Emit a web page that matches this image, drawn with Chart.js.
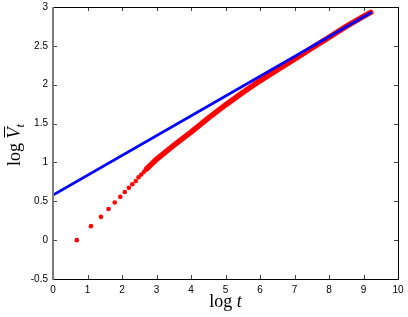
<!DOCTYPE html>
<html>
<head>
<meta charset="utf-8">
<script src="https://cdn.jsdelivr.net/npm/chart.js@4/dist/chart.umd.min.js"></script>
<style>
  body { margin: 0; background: #fff; }
  canvas { display: block; }
</style>
</head>
<body>
<canvas id="vChart" width="408" height="317"></canvas>
<script>
// values
const xTicks = [0, 1, 2, 3, 4, 5, 6, 7, 8, 9, 10];
const yTicks = [-0.5, 0, 0.5, 1, 1.5, 2, 2.5, 3];

// fitted straight line (blue)
const lineLogT = [0, 9.21];
const lineLogV = [0.58, 2.925];

// early samples, still drawn as separate dots (red)
const dotLogT = [0.69, 1.10, 1.39, 1.61, 1.79, 1.95, 2.08, 2.20, 2.30, 2.40, 2.48, 2.56, 2.64, 2.71];
const dotLogV = [0.00, 0.18, 0.30, 0.40, 0.485, 0.557, 0.62, 0.673, 0.72, 0.76, 0.81, 0.845, 0.88, 0.915];

// later samples, so dense they merge into a thick band (red)
const bandLogT = [2.71, 3.0, 3.5, 4.0, 4.5, 5.0, 5.5, 6.0, 6.5, 7.0, 7.5, 8.0, 8.5, 9.0, 9.21];
const bandLogV = [0.915, 1.04, 1.22, 1.39, 1.57, 1.74, 1.90, 2.05, 2.19, 2.33, 2.47, 2.61, 2.75, 2.88, 2.93];

const pts = (xs, ys) => xs.map((x, i) => ({ x: x, y: ys[i] }));

// frame + inward ticks on all four sides
const framePlugin = {
    id: 'frame',
    afterDraw(chart) {
        const ctx = chart.ctx;
        const a = chart.chartArea;
        const xs = chart.scales.x, ys = chart.scales.y;
        const L = Math.round(a.left), R = Math.round(a.right);
        const T = Math.round(a.top), B = Math.round(a.bottom);
        ctx.save();
        ctx.fillStyle = '#444';
        xTicks.forEach(v => {
            const px = Math.round(xs.getPixelForValue(v));
            ctx.fillRect(px, B - 4, 1, 4);
            ctx.fillRect(px, T, 1, 4);
        });
        yTicks.forEach(v => {
            const py = Math.round(ys.getPixelForValue(v));
            ctx.fillRect(L, py, 4, 1);
            ctx.fillRect(R - 4, py, 4, 1);
        });
        ctx.fillStyle = '#000';
        ctx.fillRect(L, T, R - L + 1, 1);
        ctx.fillRect(R, T, 1, B - T + 1);
        ctx.fillRect(L, B, R - L + 1, 1);
        ctx.fillStyle = '#7a7a7a';
        ctx.fillRect(L - 1, T, 2, B - T + 1);

        // x title: log t
        ctx.fillStyle = '#000';
        ctx.textBaseline = 'alphabetic';
        ctx.textAlign = 'left';
        const big = '18px "Liberation Serif"';
        const bigIt = 'italic 18px "Liberation Serif"';
        const small = 'italic 13px "Liberation Serif"';
        ctx.font = big;
        const wLog = ctx.measureText('log ').width;
        ctx.font = bigIt;
        const wT = ctx.measureText('t').width;
        let x0 = (a.left + a.right) / 2 - (wLog + wT) / 2;
        ctx.font = big; ctx.fillText('log ', x0, 307);
        ctx.font = bigIt; ctx.fillText('t', x0 + wLog, 307);

        // y title: log V-bar_t, rotated
        ctx.translate(20, 145);
        ctx.rotate(-Math.PI / 2);
        ctx.font = big;
        const wl = ctx.measureText('log ').width;
        ctx.font = bigIt;
        const wv = ctx.measureText('V').width;
        ctx.font = small;
        const ws = ctx.measureText('t').width;
        x0 = -(wl + wv + ws) / 2;
        ctx.font = big; ctx.fillText('log ', x0, 0);
        ctx.font = bigIt; ctx.fillText('V', x0 + wl, 0);
        ctx.fillRect(x0 + wl + 1, -16, wv, 1);
        ctx.font = small; ctx.fillText('t', x0 + wl + wv, 4);
        ctx.restore();
    }
};

new Chart(document.getElementById('vChart').getContext('2d'), {
    type: 'scatter',
    data: {
        datasets: [
            {
                data: pts(lineLogT, lineLogV),
                showLine: true,
                borderColor: '#0000ff',
                borderWidth: 2.8,
                borderCapStyle: 'round',
                pointRadius: 0
            },
            {
                data: pts(bandLogT, bandLogV),
                showLine: true,
                borderColor: '#ff0000',
                borderWidth: 5.5,
                borderCapStyle: 'round',
                pointRadius: 0
            },
            {
                data: pts(dotLogT, dotLogV),
                backgroundColor: '#ff0000',
                borderWidth: 0,
                pointRadius: 2.3
            }
        ]
    },
    options: {
        responsive: false,
        animation: false,
        layout: { padding: { top: 7, right: 10, left: 0, bottom: 0 } },
        plugins: { legend: { display: false }, tooltip: { enabled: false } },
        scales: {
            x: {
                type: 'linear',
                min: 0, max: 10,
                afterFit: s => { s.height = 38; s.paddingLeft = 0; s.paddingRight = 0; },
                afterBuildTicks: s => { s.ticks = xTicks.map(v => ({ value: v })); },
                grid: { display: false, drawTicks: false },
                border: { display: false },
                ticks: {
                    color: '#000',
                    font: { family: '"Liberation Sans"', size: 10 },
                    padding: 5,
                    maxRotation: 0,
                    callback: v => String(v)
                }
            },
            y: {
                type: 'linear',
                min: -0.5, max: 3,
                afterFit: s => { s.width = 53; s.paddingTop = 0; s.paddingBottom = 0; },
                afterBuildTicks: s => { s.ticks = yTicks.map(v => ({ value: v })); },
                grid: { display: false, drawTicks: false },
                border: { display: false },
                ticks: {
                    color: '#000',
                    font: { family: '"Liberation Sans"', size: 10 },
                    padding: 5,
                    callback: v => String(v)
                }
            }
        }
    },
    plugins: [framePlugin]
});
</script>
</body>
</html>
